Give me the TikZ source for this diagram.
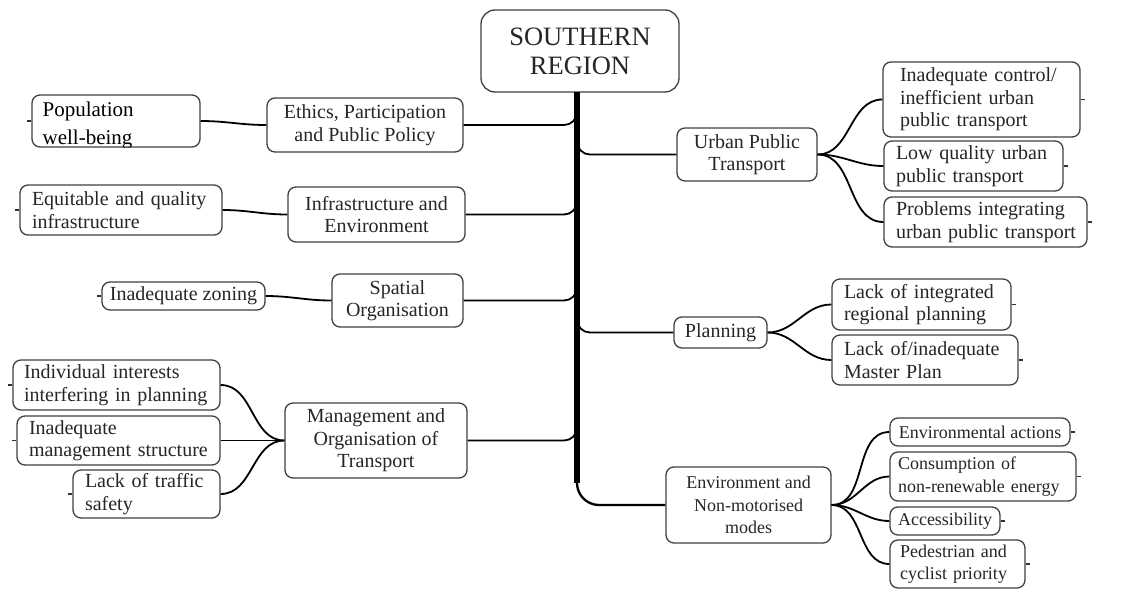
\documentclass[tikz,border=0pt]{standalone}
\usepackage{fontspec}
\setmainfont{Liberation Serif}
\usetikzlibrary{calc}
\newcommand\fsz[1]{\fontsize{#1}{22.5}\selectfont}
\tikzset{
  box/.style={draw=black!75, line width=1.3pt, rounded corners=8pt, fill=white,
              inner sep=0pt, text=black!85, font=\fsz{20}},
  hub/.style={box, align=center},
  leaf/.style={box, align=left},
  small/.style={font=\fsz{18}},
  link/.style={line width=1.8pt, black},
  stub/.style={line width=1.3pt, black!80},
  trunk/.style={line width=6.5pt, black}
}
\begin{document}
\begin{tikzpicture}[x=1pt,y=-1pt]
\useasboundingbox (0,0) rectangle (1135,589);

% root and trunk anchor points
\node[box, rounded corners=14pt, minimum width=198pt, minimum height=82pt,
      align=center, font=\fontsize{26.5}{29}\selectfont] (root) at (580,51) {SOUTHERN\\REGION};
\coordinate (ttop) at (577,92);
\coordinate (tbot) at (577,483);

% left-hand themes
\node[hub, minimum width=196pt, minimum height=54pt] (ethics) at (365,125) {Ethics, Participation\\and Public Policy};
\node[hub, minimum width=177pt, minimum height=55pt] (infra) at (376.5,214.5) {Infrastructure and\\Environment};
\node[hub, minimum width=131pt, minimum height=53pt] (spatial) at (397.5,300.5) {Spatial\\Organisation};
\node[hub, minimum width=182pt, minimum height=75pt] (mgmt) at (376,440.5) {Management and\\Organisation of\\Transport};

% left-hand leaves
\node[box, minimum width=168pt, minimum height=52pt,
      path picture={\node[anchor=north west, inner sep=0pt, align=left, text=black,
                          draw=none, fill=none, minimum width=0pt, minimum height=0pt,
                          font=\fontsize{21}{28}\selectfont]
                     at ([xshift=10pt,yshift=-6.7pt]path picture bounding box.north west)
                     {Population\\well-being};}] (pop) at (116,121) {};
\node[leaf, minimum height=50pt, inner xsep=12pt, text width=178pt] (equit) at (121,210) {\mbox{Equitable and quality}\\infrastructure};
\node[hub, minimum width=163pt, minimum height=28pt] (zoning) at (183.5,296) {Inadequate zoning};
\node[leaf, minimum height=50pt, inner xsep=11pt, text width=185pt] (indiv) at (116.5,385) {\mbox{Individual interests}\\\mbox{interfering in planning}};
\node[leaf, minimum height=49pt, inner xsep=12pt, text width=179pt] (inman) at (118.5,440.5) {Inadequate\\\mbox{management structure}};
\node[leaf, minimum height=48pt, inner xsep=12pt, text width=123pt] (traffic) at (146.5,494) {\mbox{Lack of traffic}\\safety};

% right-hand themes
\node[hub, minimum width=140pt, minimum height=53pt] (urban) at (747,154.5) {Urban Public\\Transport};
\node[hub, minimum width=93pt, minimum height=31pt] (planning) at (720.5,332.5) {Planning};
\node[hub, small, minimum width=165pt, minimum height=76pt] (env) at (748.5,505) {Environment and\\Non-motorised\\modes};

% right-hand leaves
\node[leaf, minimum height=75pt, inner xsep=17pt, text width=163pt] (inctrl) at (981.5,99.5) {\mbox{Inadequate control/}\\\mbox{inefficient urban}\\\mbox{public transport}};
\node[leaf, minimum height=50pt, inner xsep=12pt, text width=155pt] (lowq) at (973.5,166) {\mbox{Low quality urban}\\\mbox{public transport}};
\node[leaf, minimum height=50pt, inner xsep=12pt, text width=179pt] (probs) at (985.5,222) {\mbox{Problems integrating}\\\mbox{urban public transport}};
\node[leaf, minimum height=51pt, inner xsep=12pt, text width=155pt] (lackint) at (921.5,304.5) {\mbox{Lack of integrated}\\\mbox{regional planning}};
\node[leaf, minimum height=50pt, inner xsep=12pt, text width=162pt] (lackmp) at (925,360) {\mbox{Lack of/inadequate}\\\mbox{Master Plan}};
\node[hub, small, minimum width=180pt, minimum height=28pt] (envact) at (980,432) {Environmental actions};
\node[leaf, small, minimum height=49pt, inner xsep=8pt, text width=170pt] (consum) at (983,476.5) {\mbox{Consumption of}\\\mbox{non-renewable energy}};
\node[hub, small, minimum width=110pt, minimum height=28pt] (access) at (945,521) {Accessibility};
\node[leaf, small, minimum height=48pt, inner xsep=10pt, text width=115pt] (pedes) at (957.5,564) {\mbox{Pedestrian and}\\\mbox{cyclist priority}};

% branches leaving the trunk to the left
\draw[link, rounded corners=13pt] (ethics.east) -- (ethics.east -| ttop) -- ++(0,-24);
\draw[link, rounded corners=13pt] (infra.east) -- (infra.east -| ttop) -- ++(0,-24);
\draw[link, rounded corners=13pt] (spatial.east) -- (spatial.east -| ttop) -- ++(0,-24);
\draw[link, rounded corners=13pt] (mgmt.east) -- (mgmt.east -| ttop) -- ++(0,-24);

% branches leaving the trunk to the right
\draw[link, rounded corners=13pt] ($(urban.west -| ttop)+(0,-24)$) -- (urban.west -| ttop) -- (urban.west);
\draw[link, rounded corners=13pt] ($(planning.west -| ttop)+(0,-24)$) -- (planning.west -| ttop) -- (planning.west);
\draw[line width=2.3pt, rounded corners=22pt] ($(env.west -| ttop)+(0,-40)$) -- (env.west -| ttop) -- (env.west);

% trunk
\draw[trunk] (ttop) -- (tbot);

% leaf connectors
\draw[link] (pop.east) to[out=0,in=180] (ethics.west);
\draw[link] (equit.east) to[out=0,in=180] (infra.west);
\draw[link] (zoning.east) to[out=0,in=180] (spatial.west);
\foreach \n in {indiv,inman,traffic}
  \draw[link] (\n.east) to[out=0,in=180] (mgmt.west);
\foreach \n in {inctrl,lowq,probs}
  \draw[link] (urban.east) to[out=0,in=180] (\n.west);
\foreach \n in {lackint,lackmp}
  \draw[link] (planning.east) to[out=0,in=180] (\n.west);
\foreach \n in {envact,consum,access,pedes}
  \draw[link] (env.east) to[out=0,in=180] (\n.west);

% collapse ticks on the outer side of each leaf
\foreach \n in {pop,equit,zoning,indiv,inman,traffic}
  \draw[stub] (\n.west) -- ++(-4,0);
\foreach \n in {inctrl,lowq,probs,lackint,lackmp,envact,consum,access,pedes}
  \draw[stub] (\n.east) -- ++(4,0);
\end{tikzpicture}
\end{document}
